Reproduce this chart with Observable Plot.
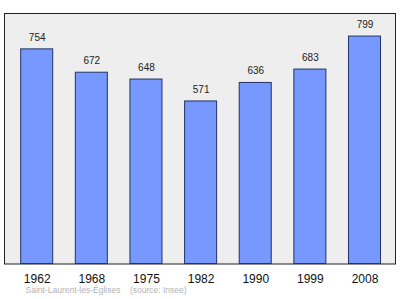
<!DOCTYPE html>
<html>
<head>
<meta charset="utf-8">
<script src="https://cdn.jsdelivr.net/npm/d3@7"></script>
<script src="https://cdn.jsdelivr.net/npm/@observablehq/plot@0.6"></script>
<style>
  html, body { margin: 0; padding: 0; background: #fff; }
  svg { display: block; }
</style>
</head>
<body>
<div id="chart"></div>
<script>
const years = ["1962", "1968", "1975", "1982", "1990", "1999", "2008"];
const population = [754, 672, 648, 571, 636, 683, 799];
const caption = "Saint-Laurent-les-Églises    (source: Insee)";

const data = years.map((y, i) => ({year: y, pop: population[i]}));

const chart = Plot.plot({
  width: 400,
  height: 299,
  marginLeft: 4,
  marginRight: 5,
  marginTop: 13,
  marginBottom: 35.5,
  style: {fontFamily: "'Liberation Sans', Arial, sans-serif", background: "#fff"},
  x: {domain: years, range: [4.3, 396.9], paddingInner: 0.414, paddingOuter: 0.3, round: false, axis: null},
  y: {domain: [0, 880], axis: null},
  marks: [
    Plot.frame({fill: "#eeeeee", stroke: "#222", strokeWidth: 1}),
    Plot.barY(data, {x: "year", y: "pop", fill: "#7799ff", stroke: "#223366", strokeWidth: 1}),
    Plot.text(data, {x: "year", y: "pop", text: d => String(d.pop), dy: -11.7, fontSize: 10, fill: "#222"}),
    Plot.axisX({tickSize: 0, tickPadding: 10, fontSize: 12, color: "#111", label: null}),
    Plot.text([caption], {frameAnchor: "bottom-left", dx: 21, dy: 28.5, textAnchor: "start", fontSize: 8.5, fill: "#b4b4b4", text: d => d})
  ]
});
document.getElementById("chart").append(chart);
</script>
</body>
</html>
